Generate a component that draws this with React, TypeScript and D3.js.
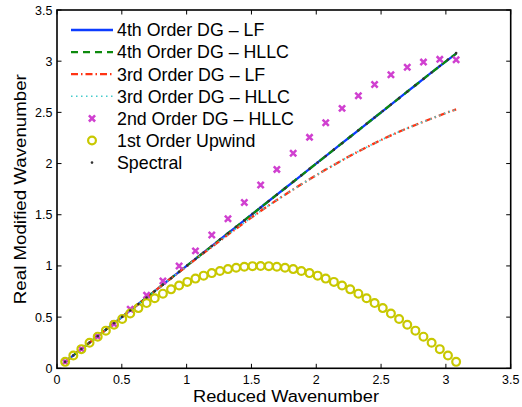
import React from "react";
import * as d3 from "d3";

const kAll = [0.063,0.126,0.188,0.251,0.314,0.377,0.440,0.503,0.565,0.628,0.691,0.754,0.817,0.880,0.942,1.005,1.068,1.131,1.194,1.257,1.319,1.382,1.445,1.508,1.571,1.634,1.696,1.759,1.822,1.885,1.948,2.011,2.073,2.136,2.199,2.262,2.325,2.388,2.450,2.513,2.576,2.639,2.702,2.765,2.827,2.890,2.953,3.016,3.079];

const dg4LF = [0.063,0.126,0.188,0.251,0.314,0.377,0.440,0.503,0.565,0.628,0.691,0.754,0.817,0.880,0.942,1.005,1.068,1.131,1.194,1.257,1.319,1.382,1.445,1.508,1.571,1.634,1.696,1.759,1.822,1.885,1.948,2.011,2.073,2.136,2.199,2.262,2.325,2.388,2.450,2.513,2.576,2.639,2.702,2.765,2.827,2.890,2.952,3.013,3.074];
const dg4HLLC = [0.063,0.126,0.188,0.251,0.314,0.377,0.440,0.503,0.565,0.628,0.691,0.754,0.817,0.880,0.942,1.005,1.068,1.131,1.194,1.257,1.319,1.382,1.445,1.508,1.571,1.634,1.696,1.759,1.822,1.885,1.948,2.011,2.073,2.136,2.199,2.262,2.325,2.388,2.450,2.513,2.576,2.639,2.702,2.765,2.827,2.890,2.952,3.013,3.074];
const dg3LF = [0.063,0.126,0.188,0.251,0.314,0.377,0.440,0.503,0.565,0.628,0.691,0.754,0.817,0.880,0.940,1.002,1.064,1.125,1.186,1.246,1.305,1.364,1.423,1.480,1.536,1.591,1.644,1.696,1.747,1.797,1.846,1.894,1.941,1.987,2.032,2.076,2.118,2.159,2.199,2.238,2.275,2.311,2.345,2.377,2.409,2.440,2.471,2.501,2.529];
const dg3HLLC = [0.063,0.126,0.188,0.251,0.314,0.377,0.440,0.503,0.565,0.628,0.691,0.754,0.817,0.880,0.940,1.002,1.064,1.125,1.186,1.246,1.305,1.364,1.423,1.480,1.536,1.591,1.644,1.696,1.747,1.797,1.846,1.894,1.941,1.987,2.032,2.076,2.118,2.159,2.199,2.238,2.275,2.311,2.345,2.377,2.409,2.440,2.471,2.501,2.529];

const kOdd = [0.063,0.188,0.314,0.440,0.565,0.691,0.817,0.942,1.068,1.194,1.319,1.445,1.571,1.696,1.822,1.948,2.073,2.199,2.325,2.450,2.576,2.702,2.827,2.953,3.079];
const dg2HLLC = [0.063,0.188,0.310,0.432,0.577,0.713,0.852,1.000,1.147,1.303,1.460,1.620,1.790,1.943,2.100,2.256,2.398,2.539,2.662,2.773,2.868,2.940,2.991,3.018,3.014];

const upwind1 = [0.063,0.125,0.187,0.249,0.309,0.368,0.426,0.482,0.536,0.588,0.637,0.685,0.729,0.771,0.809,0.844,0.876,0.905,0.930,0.951,0.969,0.982,0.992,0.998,1.000,0.998,0.992,0.982,0.969,0.951,0.930,0.905,0.876,0.844,0.809,0.771,0.729,0.685,0.637,0.588,0.536,0.482,0.426,0.368,0.309,0.249,0.187,0.125,0.063];
const spectral = [0.063,0.126,0.188,0.251,0.314,0.377,0.440,0.503,0.565,0.628,0.691,0.754,0.817,0.880,0.942,1.005,1.068,1.131,1.194,1.257,1.319,1.382,1.445,1.508,1.571,1.634,1.696,1.759,1.822,1.885,1.948,2.011,2.073,2.136,2.199,2.262,2.325,2.388,2.450,2.513,2.576,2.639,2.702,2.765,2.827,2.890,2.953,3.016,3.079];

const xTicks = [0, 0.5, 1, 1.5, 2, 2.5, 3, 3.5];
const yTicks = [0, 0.5, 1, 1.5, 2, 2.5, 3, 3.5];
const legendLabels = ["4th Order DG \u2013 LF", "4th Order DG \u2013 HLLC", "3rd Order DG \u2013 LF", "3rd Order DG \u2013 HLLC", "2nd Order DG \u2013 HLLC", "1st Order Upwind", "Spectral"];

const FONT = "'Liberation Sans', Arial, Helvetica, sans-serif";
const BLUE = "#0c3cff";
const GREEN = "#0d8a0d";
const RED = "#ff3414";
const CYAN = "#44cccc";
const MAGENTA = "#d040d0";
const YELLOW = "#c8c800";

export default function App() {
  const L = 57, R = 510.7, T = 10, B = 368.3;
  const x = d3.scaleLinear().domain([0, 3.5]).range([L, R]);
  const y = d3.scaleLinear().domain([0, 3.5]).range([B, T]);
  const line = (ys: number[]) =>
    d3.line<number>().x((_, i) => x(kAll[i])).y((v) => y(v))(ys) || "";

  const crossPath = (cx: number, cy: number, s: number) =>
    `M${cx - s},${cy - s}L${cx + s},${cy + s}M${cx - s},${cy + s}L${cx + s},${cy - s}`;

  const legY = (i: number) => 30 + i * 22.1;
  const lx0 = 71, lx1 = 113, lmid = 92, tx = 117;

  return (
    <svg width={522} height={407} style={{ position: "absolute", left: 0, top: 0, background: "#fff" }} fontFamily={FONT}>
      <rect x={0} y={0} width={522} height={407} fill="#fff" />
      <path d={line(dg4LF)} fill="none" stroke={BLUE} strokeWidth={2.3} />
      <path d={line(dg4HLLC)} fill="none" stroke={GREEN} strokeWidth={2.3} strokeDasharray="7,5" />
      <path d={line(dg3LF)} fill="none" stroke={RED} strokeWidth={2.3} strokeDasharray="7,3,1.5,3" />
      <path d={line(dg3HLLC)} fill="none" stroke={CYAN} strokeWidth={1.6} strokeDasharray="1.5,3.5" />
      {kOdd.map((k, i) => (
        <path key={"c" + i} d={crossPath(x(k), y(dg2HLLC[i]), 3.1)} stroke={MAGENTA} strokeWidth={2.5} fill="none" />
      ))}
      {kAll.map((k, i) => (
        <circle key={"u" + i} cx={x(k)} cy={y(upwind1[i])} r={3.9} fill="none" stroke={YELLOW} strokeWidth={2.2} />
      ))}
      {kAll.map((k, i) => (
        <circle key={"s" + i} cx={x(k)} cy={y(spectral[i])} r={1.3} fill="#333" />
      ))}
      <rect x={L} y={T} width={R - L} height={B - T} fill="none" stroke="#000" strokeWidth={1.6} />
      {xTicks.map((t, i) => (
        <g key={"xt" + i}>
          <line x1={x(t)} x2={x(t)} y1={B} y2={B - 4.5} stroke="#000" strokeWidth={1} />
          <line x1={x(t)} x2={x(t)} y1={T} y2={T + 4.5} stroke="#000" strokeWidth={1} />
          <text x={x(t)} y={383.5} fontSize={12.5} textAnchor="middle" fill="#000">{String(t)}</text>
        </g>
      ))}
      {yTicks.map((t, i) => (
        <g key={"yt" + i}>
          <line x1={L} x2={L + 4.5} y1={y(t)} y2={y(t)} stroke="#000" strokeWidth={1} />
          <line x1={R} x2={R - 4.5} y1={y(t)} y2={y(t)} stroke="#000" strokeWidth={1} />
          <text x={52.5} y={y(t) + 4.5} fontSize={12.5} textAnchor="end" fill="#000">{String(t)}</text>
        </g>
      ))}
      <text x={286} y={401.5} fontSize={16} textAnchor="middle" textLength={186} lengthAdjust="spacingAndGlyphs" fill="#000">Reduced Wavenumber</text>
      <text transform={`translate(25.5,${(T + B) / 2}) rotate(-90)`} fontSize={17} textAnchor="middle" textLength={230} lengthAdjust="spacingAndGlyphs" fill="#000">Real Modified Wavenumber</text>
      <line x1={lx0} x2={lx1} y1={legY(0)} y2={legY(0)} stroke={BLUE} strokeWidth={2.3} />
      <line x1={lx0} x2={lx1} y1={legY(1)} y2={legY(1)} stroke={GREEN} strokeWidth={2.3} strokeDasharray="7,5" />
      <line x1={lx0} x2={lx1} y1={legY(2)} y2={legY(2)} stroke={RED} strokeWidth={2.3} strokeDasharray="7,3,1.5,3" />
      <line x1={lx0} x2={lx1} y1={legY(3)} y2={legY(3)} stroke={CYAN} strokeWidth={1.6} strokeDasharray="1.5,3.5" />
      <path d={crossPath(lmid, legY(4), 3.1)} stroke={MAGENTA} strokeWidth={2.5} fill="none" />
      <circle cx={lmid} cy={legY(5)} r={3.9} fill="none" stroke={YELLOW} strokeWidth={2.2} />
      <circle cx={lmid} cy={legY(6)} r={1.3} fill="#333" />
      {legendLabels.map((s, i) => (
        <text key={"l" + i} x={tx} y={legY(i) + 6.3} fontSize={17.8} fill="#000">{s}</text>
      ))}
    </svg>
  );
}
